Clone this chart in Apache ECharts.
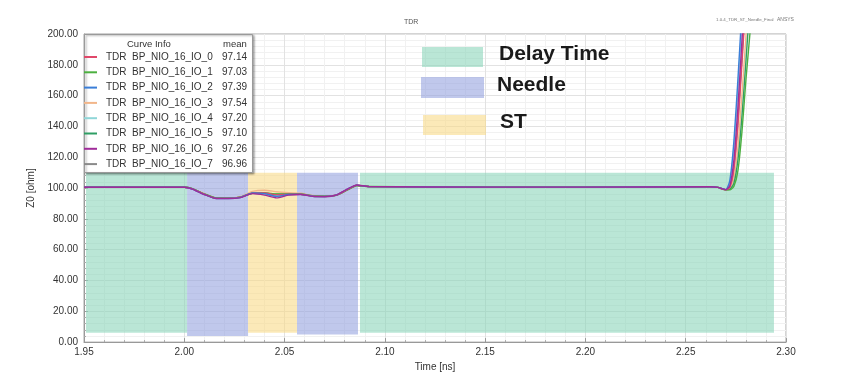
<!DOCTYPE html>
<html>
<head>
<meta charset="utf-8">
<script src="https://cdn.jsdelivr.net/npm/echarts@6/dist/echarts.min.js"></script>
<style>
  html, body { margin: 0; padding: 0; background: #fff; }
  #chart { width: 854px; height: 377px; }
</style>
</head>
<body>
<div id="chart"></div>
<script>
// time axis samples [ns]
var times = [1.95, 2.000, 2.004, 2.010, 2.016, 2.022, 2.028, 2.034, 2.040, 2.046,
  2.052, 2.058, 2.064, 2.070, 2.076, 2.082, 2.086, 2.092, 2.150, 2.200,
  2.262, 2.266, 2.270, 2.272, 2.274, 2.276, 2.278, 2.280, 2.282, 2.284];

var curveNames = ["TDR  BP_NIO_16_IO_0", "TDR  BP_NIO_16_IO_1", "TDR  BP_NIO_16_IO_2", "TDR  BP_NIO_16_IO_3",
  "TDR  BP_NIO_16_IO_4", "TDR  BP_NIO_16_IO_5", "TDR  BP_NIO_16_IO_6", "TDR  BP_NIO_16_IO_7"];
var curveMeans = ["97.14", "97.03", "97.39", "97.54", "97.20", "97.10", "97.26", "96.96"];
var curveColors = ["#e0486a", "#4cb040", "#3a7ed8", "#f2b68a", "#8fd6d8", "#2f9e64", "#a02c9a", "#8a8a8a"];
// drawing order (last on top)
var drawOrder = [7, 3, 4, 5, 1, 0, 2, 6];

// Z0 [ohm] per curve
var io0 = [100.5, 100.5, 99.5, 96.0, 93.3, 93.3, 94.0, 96.8, 96.8, 95.6, 96.0, 96.0, 94.8, 94.6, 95.5, 99.5, 101.8, 101.0, 100.6, 100.6, 100.8, 100.4, 98.8, 100.5, 112, 140, 180, 222, 265, 305];
var io1 = [100.5, 100.5, 99.6, 96.2, 93.5, 93.4, 94.1, 96.6, 96.9, 96.2, 96.2, 96.1, 95.0, 94.7, 95.4, 99.2, 101.6, 101.0, 100.6, 100.6, 100.8, 100.4, 98.8, 98.8, 101, 111, 136, 170, 200, 235];
var io2 = [100.5, 100.5, 99.4, 95.8, 93.2, 93.2, 93.9, 96.9, 96.4, 94.6, 95.8, 95.9, 94.7, 94.5, 95.6, 99.8, 101.9, 101.0, 100.6, 100.6, 100.8, 100.4, 99.0, 105, 130, 170, 215, 260, 300, 340];
var io3 = [100.5, 100.5, 99.6, 96.3, 93.6, 93.5, 94.4, 97.8, 98.6, 97.6, 97.0, 96.6, 95.2, 94.9, 95.6, 99.3, 101.7, 101.0, 100.6, 100.6, 100.8, 100.4, 98.8, 99.5, 106, 126, 160, 198, 238, 278];
var io4 = [100.5, 100.5, 99.5, 95.9, 93.3, 93.3, 94.0, 96.7, 96.5, 95.2, 95.9, 96.0, 94.8, 94.6, 95.5, 99.6, 101.8, 101.0, 100.6, 100.6, 100.8, 100.4, 99.0, 103, 125, 163, 208, 252, 295, 335];
var io5 = [100.5, 100.5, 99.6, 96.1, 93.4, 93.4, 94.1, 96.7, 96.8, 96.0, 96.1, 96.0, 94.9, 94.7, 95.4, 99.3, 101.7, 101.0, 100.6, 100.6, 100.8, 100.4, 98.8, 99.2, 103, 118, 146, 182, 220, 258];
var io6 = [100.5, 100.5, 99.4, 95.8, 93.2, 93.2, 93.8, 96.4, 95.4, 93.6, 95.4, 95.8, 94.6, 94.4, 95.6, 99.8, 102.0, 101.0, 100.6, 100.6, 100.8, 100.4, 99.0, 101.5, 118, 152, 195, 238, 280, 320];
var io7 = [100.5, 100.5, 99.5, 96.0, 93.3, 93.3, 94.0, 96.6, 96.2, 94.8, 95.8, 95.9, 94.7, 94.5, 95.5, 99.6, 101.8, 101.0, 100.6, 100.6, 100.8, 100.4, 98.8, 100.5, 113, 143, 184, 226, 268, 308];
var curveValues = [io0, io1, io2, io3, io4, io5, io6, io7];

// shaded regions: start, end [ns], bottom, top [ohm], kind
var bandStart = [1.951, 2.0014, 2.0318, 2.0562, 2.0876];
var bandEnd = [2.0014, 2.0318, 2.0562, 2.0866, 2.294];
var bandBottom = [6, 4, 6, 5, 6];
var bandTop = [110, 110, 110, 110, 110];
var bandKind = ["delay", "needle", "st", "needle", "delay"];
var bandColors = {
  delay: "rgba(140,214,186,0.6)",
  needle: "rgba(150,163,223,0.6)",
  st: "rgba(248,218,137,0.6)"
};

var bandData = bandStart.map(function (s, i) {
  return [s, bandEnd[i], bandBottom[i], bandTop[i], bandKind[i]];
});

var series = [{
  type: "custom",
  name: "regions",
  z: 1,
  silent: true,
  clip: true,
  encode: { x: [0, 1], y: [2, 3] },
  data: bandData,
  renderItem: function (params, api) {
    var p0 = api.coord([api.value(0), api.value(3)]);
    var p1 = api.coord([api.value(1), api.value(2)]);
    return {
      type: "rect",
      shape: { x: p0[0], y: p0[1], width: p1[0] - p0[0], height: p1[1] - p0[1] },
      style: { fill: bandColors[bandData[params.dataIndex][4]] }
    };
  }
}];

drawOrder.forEach(function (k) {
  series.push({
    type: "line",
    name: curveNames[k],
    z: 3,
    showSymbol: false,
    smooth: 0.2,
    clip: true,
    color: curveColors[k],
    lineStyle: { width: 1.4 },
    data: times.map(function (t, i) { return [t, curveValues[k][i]]; })
  });
});

var myChart = echarts.init(document.getElementById("chart"));
var option = {
  animation: false,
  backgroundColor: "#fff",
  textStyle: { fontFamily: "Liberation Sans, Arial, sans-serif" },
  grid: {
    left: 84, right: 68, top: 34, bottom: 34,
    show: true, borderColor: "#a8a8a8", borderWidth: 1, backgroundColor: "#fff"
  },
  graphic: [
    { type: "text", left: 404, top: 19, style: { text: "TDR", fontSize: 7, fill: "#555", fontFamily: "Liberation Sans" } },
    { type: "text", left: 716, top: 18, style: { text: "1.0.4_TDR_ST_Needle_Final", fontSize: 4.4, fill: "#777", fontFamily: "Liberation Sans" } },
    { type: "text", left: 777, top: 17, style: { text: "ANSYS", fontSize: 5, fill: "#777", fontFamily: "Liberation Sans" } },
    // curve info box
    { type: "rect", z: 5, shape: { x: 84.5, y: 34.5, width: 168, height: 138 },
      style: { fill: "#fff", stroke: "#9a9a9a", lineWidth: 1, shadowBlur: 2, shadowOffsetX: 1.5, shadowOffsetY: 1, shadowColor: "rgba(0,0,0,0.35)" } },
    { type: "text", z: 6, left: 127, top: 39, style: { text: "Curve Info", fontSize: 9.5, fill: "#333", fontFamily: "Liberation Sans" } },
    { type: "text", z: 6, left: 223, top: 39, style: { text: "mean", fontSize: 9.5, fill: "#333", fontFamily: "Liberation Sans" } },
    // region key
    { type: "rect", z: 5, shape: { x: 422, y: 47, width: 61, height: 20 }, style: { fill: "rgba(140,214,186,0.6)" } },
    { type: "rect", z: 5, shape: { x: 421, y: 77, width: 63, height: 21 }, style: { fill: "rgba(150,163,223,0.6)" } },
    { type: "rect", z: 5, shape: { x: 423, y: 115, width: 63, height: 20 }, style: { fill: "rgba(248,218,137,0.6)" } },
    { type: "text", z: 6, left: 499, top: 44, style: { text: "Delay Time", fontSize: 21, fontWeight: "bold", fill: "#1a1a1a", fontFamily: "Liberation Sans" } },
    { type: "text", z: 6, left: 497, top: 75, style: { text: "Needle", fontSize: 21, fontWeight: "bold", fill: "#1a1a1a", fontFamily: "Liberation Sans" } },
    { type: "text", z: 6, left: 500, top: 112, style: { text: "ST", fontSize: 21, fontWeight: "bold", fill: "#1a1a1a", fontFamily: "Liberation Sans" } }
  ],
  legend: {
    orient: "vertical",
    left: 84,
    top: 51,
    z: 7,
    padding: 0,
    itemGap: 3.3,
    itemWidth: 13,
    itemHeight: 2,
    icon: "rect",
    selectedMode: false,
    data: curveNames,
    formatter: function (name) {
      var i = curveNames.indexOf(name);
      return "{n|" + name + "}{m|" + curveMeans[i] + "}";
    },
    textStyle: {
      color: "#333",
      fontSize: 10,
      lineHeight: 12,
      rich: {
        n: { width: 116, fontSize: 10, padding: [0, 0, 0, 4], fontFamily: "Liberation Sans" },
        m: { fontSize: 10, fontFamily: "Liberation Sans" }
      }
    }
  },
  xAxis: {
    type: "value",
    min: 1.95,
    max: 2.30,
    interval: 0.05,
    name: "Time [ns]",
    nameLocation: "middle",
    nameGap: 19,
    nameTextStyle: { fontSize: 10, color: "#333" },
    axisLine: { show: true, lineStyle: { color: "#999" } },
    axisTick: { show: true, inside: true, length: 4, lineStyle: { color: "#999" } },
    minorTick: { show: true, splitNumber: 5, length: 2, lineStyle: { color: "#aaa" } },
    axisLabel: { fontSize: 10, color: "#333", margin: 5, formatter: function (v) { return v.toFixed(2); } },
    splitLine: { show: true, lineStyle: { color: "#e2e2e2" } },
    minorSplitLine: { show: true, lineStyle: { color: "#f1f1f1" } }
  },
  yAxis: {
    type: "value",
    min: 0,
    max: 200,
    interval: 20,
    name: "Z0 [ohm]",
    nameLocation: "middle",
    nameGap: 43,
    nameTextStyle: { fontSize: 10, color: "#333" },
    axisLine: { show: true, lineStyle: { color: "#999" } },
    axisTick: { show: true, inside: true, length: 4, lineStyle: { color: "#999" } },
    minorTick: { show: true, splitNumber: 5, length: 2, lineStyle: { color: "#aaa" } },
    axisLabel: { fontSize: 10, color: "#333", margin: 6, formatter: function (v) { return v.toFixed(2); } },
    splitLine: { show: true, lineStyle: { color: "#e2e2e2" } },
    minorSplitLine: { show: true, lineStyle: { color: "#f1f1f1" } }
  },
  series: series
};
myChart.setOption(option);
</script>
</body>
</html>
